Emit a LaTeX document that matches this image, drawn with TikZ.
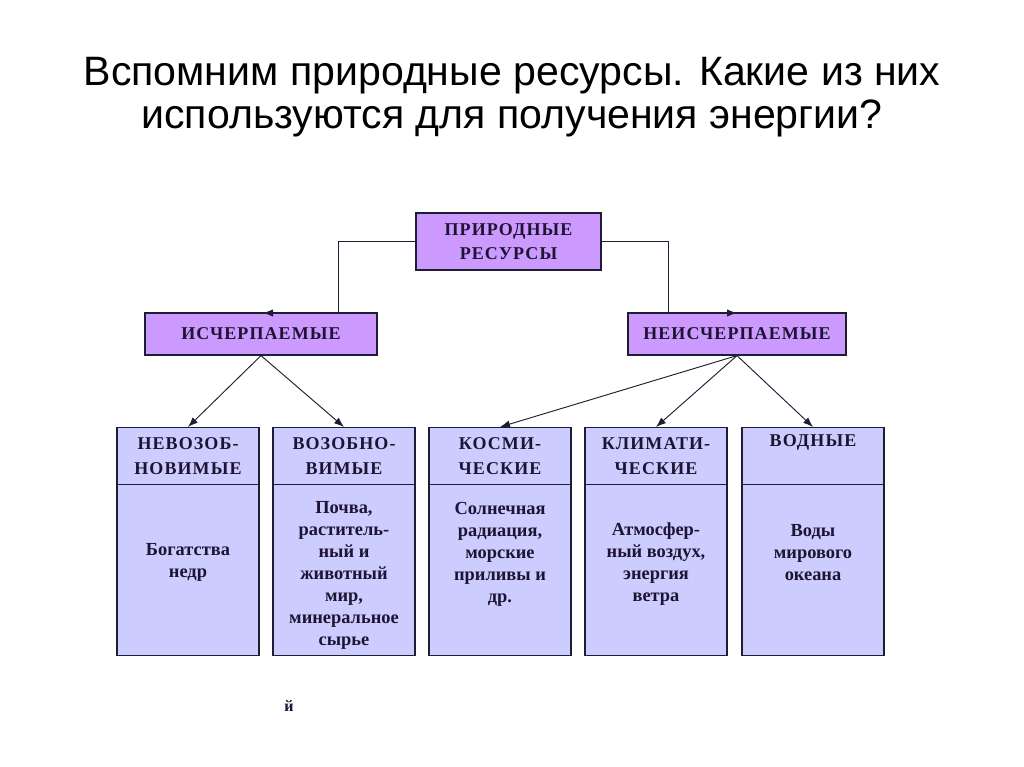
\documentclass[tikz,border=0pt]{standalone}
\usepackage{fontspec}
\setmainfont{Liberation Serif}
\newfontfamily\titlefont{Liberation Sans}
\newfontfamily\capsfont{Liberation Serif}[LetterSpace=6]
\usetikzlibrary{arrows.meta}
\definecolor{topfill}{RGB}{204,153,255}
\definecolor{lowfill}{RGB}{204,204,255}
\definecolor{edge}{RGB}{30,30,50}
\definecolor{ink}{RGB}{28,20,50}
\tikzset{
  topbox/.style={draw=edge, line width=0.9pt, fill=topfill, inner sep=0pt, align=center,
    font=\capsfont\bfseries\fontsize{13.5}{18.5}\selectfont, text=ink},
  headbox/.style={draw=edge, line width=0.9pt, fill=lowfill, inner sep=0pt, align=center,
    font=\capsfont\bfseries\fontsize{13.5}{18.5}\selectfont, text=ink, minimum width=106.5pt, minimum height=42.75pt},
  bodybox/.style={draw=edge, line width=0.9pt, fill=lowfill, inner sep=0pt, minimum width=106.5pt, minimum height=128.25pt},
  bodytext/.style={align=center, inner sep=0pt, font=\bfseries\fontsize{13.8}{16.5}\selectfont, text=ink},
  conn/.style={draw=edge, line width=0.7pt},
  arr/.style={conn, -{Latex[length=7.5pt,width=5.5pt]}}
}
\begin{document}
\begin{tikzpicture}[x=0.75pt,y=-0.75pt]
\useasboundingbox (0,0) rectangle (1024,767);
\fill[white] (0,0) rectangle (1024,767);
% title
\node[font=\titlefont\fontsize{30.8}{32.25}\selectfont, align=center, text=black] (title) at (512,97)
  {Вспомним природные ресурсы. Какие из них\\используются для получения энергии?};
% top level
\node[topbox, minimum width=138.75pt, minimum height=42.75pt] (root) at (508.5,241.5) {ПРИРОДНЫЕ\\РЕСУРСЫ};
\node[topbox, minimum width=174pt, minimum height=31.5pt] (exh) at (261,334) {ИСЧЕРПАЕМЫЕ};
\node[topbox, minimum width=163.5pt, minimum height=31.5pt] (inex) at (737,334) {НЕИСЧЕРПАЕМЫЕ};
% lower boxes
\foreach \i/\cx/\h/\ty/\b in {
  1/188/{НЕВОЗОБ-\\НОВИМЫЕ}/562/{Богатства\\недр},
  2/344/{ВОЗОБНО-\\ВИМЫЕ}/575/{Почва,\\раститель-\\ный и\\животный\\мир,\\минеральное\\сырье},
  3/500/{КОСМИ-\\ЧЕСКИЕ}/554/{Солнечная\\радиация,\\морские\\приливы и\\др.},
  4/656/{КЛИМАТИ-\\ЧЕСКИЕ}/564/{Атмосфер-\\ный воздух,\\энергия\\ветра},
  5/813/{ВОДНЫЕ\\\strut}/553/{Воды\\мирового\\океана}} {
  \node[headbox, anchor=north] (h\i) at (\cx,427) {\h};
  \node[bodybox, anchor=north] (b\i) at (\cx,484) {};
  \node[bodytext] (t\i) at (\cx,\ty) {\b};
}
% connectors
\coordinate (la) at (338,313);
\coordinate (ra) at (668,313);
\draw[conn] (root.west) -| (la);
\draw[arr] (la) -- (263,313);
\draw[conn] (root.east) -| (ra);
\draw[arr] (ra) -- (737,313);
\draw[arr] (exh.south) -- (h1.north);
\draw[arr] (exh.south) -- (h2.north);
\draw[arr] (inex.south) -- (h3.north);
\draw[arr] (inex.south) -- (h4.north);
\draw[arr] (inex.south) -- (h5.north);
% stray letter
\node[font=\bfseries\fontsize{12}{14}\selectfont, text=ink] (stray) at (289,706) {й};
\end{tikzpicture}
\end{document}
